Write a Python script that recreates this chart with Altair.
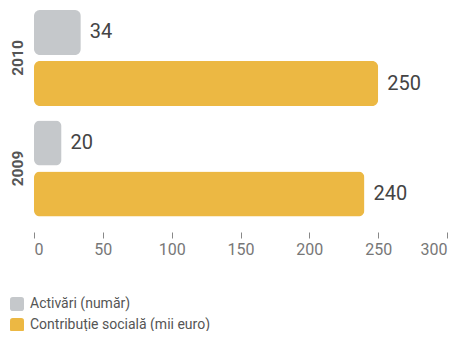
import altair as alt
import pandas as pd

years = ["2010", "2010", "2009", "2009"]
series = ["Activări (număr)", "Contribuție socială (mii euro)",
          "Activări (număr)", "Contribuție socială (mii euro)"]
values = [34, 250, 20, 240]
series_order = ["Activări (număr)", "Contribuție socială (mii euro)"]
colors = ["#c5c8cb", "#ecb843"]
x_ticks = [0, 50, 100, 150, 200, 250, 300]

df = pd.DataFrame({"year": years, "series": series, "value": values})

FONT = "Roboto"
rounded = "M-0.6,-1L0.6,-1Q1,-1 1,-0.6L1,0.6Q1,1 0.6,1L-0.6,1Q-1,1 -1,0.6L-1,-0.6Q-1,-1 -0.6,-1Z"

y = alt.Y("year:N", sort=["2010", "2009"],
          scale=alt.Scale(paddingInner=0.131, paddingOuter=0.018),
          axis=alt.Axis(title=None, domain=False, ticks=False, labelAngle=-90,
                        labelAlign="center", labelBaseline="alphabetic",
                        labelPadding=12, labelFont=FONT, labelFontSize=15.5,
                        labelFontWeight="bold", labelColor="#555555"))
yoff = alt.YOffset("series:N", sort=series_order,
                   scale=alt.Scale(paddingInner=0.118, paddingOuter=0))
x = alt.X("value:Q", scale=alt.Scale(domain=[0, 300], nice=False),
          axis=alt.Axis(title=None, values=x_ticks, domain=False, grid=False,
                        tickSize=6, tickColor="#888888", offset=13.5,
                        labelPadding=3, labelFont=FONT, labelFontSize=16,
                        labelColor="#777777"))

bars = alt.Chart(df).mark_bar(cornerRadius=6).encode(
    x=x, y=y, yOffset=yoff,
    color=alt.Color("series:N", sort=series_order,
                    scale=alt.Scale(domain=series_order, range=colors),
                    legend=alt.Legend(title=None, orient="none", legendX=-24,
                                      legendY=289, symbolType=rounded,
                                      symbolSize=196, symbolStrokeWidth=0,
                                      rowPadding=7, labelFont=FONT,
                                      labelFontSize=14, labelColor="#555555",
                                      labelOffset=6, labelLimit=400, padding=0)),
)

labels = alt.Chart(df).mark_text(align="left", baseline="middle", dx=9,
                                 font=FONT, fontSize=20, color="#444444").encode(
    x=alt.X("value:Q"), y=alt.Y("year:N", sort=["2010", "2009"]),
    yOffset=alt.YOffset("series:N", sort=series_order),
    text=alt.Text("value:Q"),
)

chart = (bars + labels).properties(
    width=413, height=210.5,
    autosize=alt.AutoSizeParams(type="none"),
    padding={"left": 26, "top": 0, "right": 6, "bottom": 112},
).configure_view(stroke=None)

chart.save("out.html", embed_options={"renderer": "svg", "actions": False})
